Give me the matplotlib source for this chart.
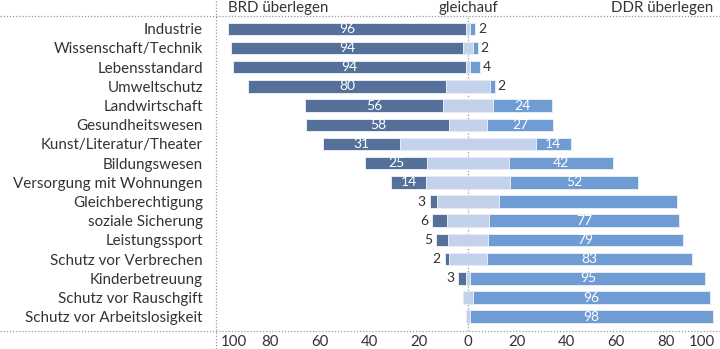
import matplotlib
matplotlib.use("Agg")
import matplotlib.pyplot as plt
from matplotlib.lines import Line2D
import numpy as np

# Survey: which German state leads in each area (percent of respondents)
categories = [
    "Industrie", "Wissenschaft/Technik", "Lebensstandard", "Umweltschutz",
    "Landwirtschaft", "Gesundheitswesen", "Kunst/Literatur/Theater",
    "Bildungswesen", "Versorgung mit Wohnungen", "Gleichberechtigung",
    "soziale Sicherung", "Leistungssport", "Schutz vor Verbrechen",
    "Kinderbetreuung", "Schutz vor Rauschgift", "Schutz vor Arbeitslosigkeit",
]
brd_ahead = [96, 94, 94, 80, 56, 58, 31, 25, 14, 3, 6, 5, 2, 3, 0, 0]
level = [2, 4, 2, 18, 20, 15, 55, 33, 34, 25, 17, 16, 15, 2, 4, 2]
ddr_ahead = [2, 2, 4, 2, 24, 27, 14, 42, 52, 72, 77, 79, 83, 95, 96, 98]
ddr_label_hidden = ["Gleichberechtigung"]

header_left = "BRD überlegen"
header_mid = "gleichauf"
header_right = "DDR überlegen"
tick_values = [-100, -80, -60, -40, -20, 0, 20, 40, 60, 80, 100]

C_BRD = "#557099"
C_LEVEL = "#c3d2ea"
C_DDR = "#709cd4"
C_TEXT = "#333333"
C_GRID = "#9a9a9a"

plt.rcParams["font.family"] = ["Lato", "DejaVu Sans"]

W, H = 720, 349
fig = plt.figure(figsize=(W / 100, H / 100), dpi=100)
ax_left, ax_right, ax_top, ax_bot = 216, 720, 16, 331
ax = fig.add_axes([ax_left / W, 1 - ax_bot / H,
                   (ax_right - ax_left) / W, (ax_bot - ax_top) / H])

y = np.arange(len(categories))
brd = np.array(brd_ahead, dtype=float)
lev = np.array(level, dtype=float)
ddr = np.array(ddr_ahead, dtype=float)

half = lev / 2
bar_h = 0.65
edge = dict(edgecolor="#e6ecf6", linewidth=0.7)

# zero reference line behind the bars
ax.axvline(0, color=C_GRID, linestyle=(0, (1, 1.5)), linewidth=0.9, zorder=0)

ax.barh(y, brd, left=-half - brd, height=bar_h, color=C_BRD, zorder=2, **edge)
ax.barh(y, lev, left=-half, height=bar_h, color=C_LEVEL, zorder=2, **edge)
ax.barh(y, ddr, left=half, height=bar_h, color=C_DDR, zorder=2, **edge)

px = 204 / (ax_right - ax_left)  # data units per pixel
val_fs = 10
for i, cat in enumerate(categories):
    b, d, h2 = brd[i], ddr[i], half[i]
    if b > 0:
        if b >= 10:
            ax.text(-h2 - b / 2, i, f"{b:.0f}", ha="center", va="center",
                    color="white", fontsize=val_fs, zorder=3)
        else:
            ax.text(-h2 - b - 4 * px, i, f"{b:.0f}", ha="right", va="center",
                    color=C_TEXT, fontsize=val_fs, zorder=3)
    if d > 0 and cat not in ddr_label_hidden:
        if d >= 10:
            ax.text(h2 + d / 2, i, f"{d:.0f}", ha="center", va="center",
                    color="white", fontsize=val_fs, zorder=3)
        else:
            ax.text(h2 + d + 2.5 * px, i, f"{d:.0f}", ha="left", va="center",
                    color=C_TEXT, fontsize=val_fs, zorder=3)

ax.set_xlim(-102, 102)
ax.set_ylim(len(categories) - 1 + 0.745, -0.667)

ax.set_yticks(y, labels=categories)
ax.tick_params(axis="y", length=0, pad=9.4, labelsize=10.9, labelcolor=C_TEXT)

ax.set_xticks(tick_values, labels=[str(abs(v)) for v in tick_values])
ax.tick_params(axis="x", length=0, pad=3.2, labelsize=10.8, labelcolor=C_TEXT)
xt = ax.get_xticklabels()
xt[0].set_ha("left")
xt[-1].set_ha("right")

for s in ax.spines.values():
    s.set_visible(False)
ax.set_facecolor("none")

# header row above the plot
hdr_y = 1 + (ax_top - 12) / (ax_bot - ax_top)
tr = ax.get_xaxis_transform()
ax.text(-97, hdr_y, header_left, transform=tr, ha="left", va="baseline",
        fontsize=10.8, color=C_TEXT)
ax.text(0, hdr_y, header_mid, transform=tr, ha="center", va="baseline",
        fontsize=10.8, color=C_TEXT)
ax.text(99.3, hdr_y, header_right, transform=tr, ha="right", va="baseline",
        fontsize=10.8, color=C_TEXT)

# dotted frame lines across the whole figure
dot = dict(color=C_GRID, linestyle=(0, (1, 1.5)), linewidth=0.9)
for yy in (ax_top, ax_bot):
    fig.add_artist(Line2D([0, 1], [1 - yy / H, 1 - yy / H], **dot))
fig.add_artist(Line2D([ax_left / W, ax_left / W], [0, 1], **dot))

fig.savefig("out.png", dpi=100, facecolor="white")
